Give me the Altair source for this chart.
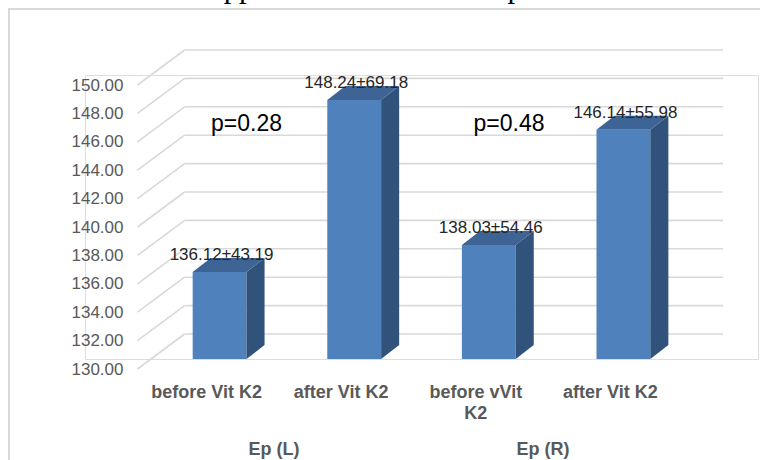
import altair as alt
import pandas as pd

# ---- values -------------------------------------------------------------
categories = ["before Vit K2", "after Vit K2", "before vVit\nK2", "after Vit K2"]
groups = ["Ep (L)", "Ep (R)"]
means = [136.12, 148.24, 138.03, 146.14]
sds = [43.19, 69.18, 54.46, 55.98]
p_values = ["p=0.28", "p=0.48"]
ticks = [130, 132, 134, 136, 138, 140, 142, 144, 146, 148, 150]
title_text = "Effect of Vit K2 supplementation on the Ep"

# ---- geometry of the pseudo-3D look ------------------------------------
PAD_L, PAD_T = 85, 75
W, H = 673, 284
HALF = 0.2        # half bar width, in category units
DX = 0.134        # bar depth, x units
DY = 0.986        # bar depth, value units

FRONT = "#4F81BD"
SIDE = "#30527B"
TOP = "#3D6495"
GRID = "#D9D9D9"
LABEL = "#595959"

xs = alt.Scale(domain=[-1, 4], nice=False, zero=False, clamp=False)
ys = alt.Scale(domain=[130, 150], nice=False, zero=False, clamp=False)
yaxis = alt.Axis(
    values=ticks, format=".2f", title=None, domain=False, ticks=False, grid=False,
    labelPadding=0, offset=PAD_L - 123, labelOffset=10, labelFont="Liberation Sans",
    labelFontSize=17, labelColor=LABEL,
)

bars = pd.DataFrame({
    "i": list(range(len(means))),
    "cat": categories,
    "mean": means,
    "label": [f"{m:.2f}\u00b1{s:.2f}" for m, s in zip(means, sds)],
})
bars["x0"] = bars["i"] - HALF
bars["x1"] = bars["i"] + HALF
bars["base"] = 130

side_rows, top_rows = [], []
for i, m in zip(bars["i"], bars["mean"]):
    side_rows += [
        {"bar": i, "x": i + HALF, "top": m, "bot": 130},
        {"bar": i, "x": i + HALF + DX, "top": m + DY, "bot": 130 + DY},
    ]
    top_rows += [
        {"bar": i, "y": m, "xl": i - HALF, "xr": i + HALF},
        {"bar": i, "y": m + DY, "xl": i - HALF + DX, "xr": i + HALF + DX},
    ]
side = pd.DataFrame(side_rows)
topf = pd.DataFrame(top_rows)
grid = pd.DataFrame({"tick": ticks})
grp = pd.DataFrame({"g": groups, "gx": [0.5, 2.5]})

# frame around the chart
frame = alt.Chart(pd.DataFrame({"a": [0]})).mark_rect(
    fill=None, stroke=GRID, strokeWidth=2
).encode(
    x=alt.value(9 - PAD_L), x2=alt.value(W + 200),
    y=alt.value(9 - PAD_T), y2=alt.value(H + 200),
)

# heading, mostly above the visible page
title = alt.Chart(pd.DataFrame({"t": [title_text]})).mark_text(
    font="Liberation Serif", fontSize=30.5, align="left", baseline="alphabetic",
    color="black",
).encode(x=alt.value(-7 - PAD_L), y=alt.value(-3.5 - PAD_T), text="t:N")

back_grid = alt.Chart(grid).mark_rule(color=GRID, strokeWidth=1.6, yOffset=-25).encode(
    x=alt.datum(-0.26, scale=xs, axis=None),
    x2=alt.datum(3.74),
    y=alt.Y("tick:Q", scale=ys, axis=yaxis),
)
floor_grid = alt.Chart(grid).mark_rule(
    color=GRID, strokeWidth=1.6, yOffset=10, y2Offset=-25
).encode(
    x=alt.datum(-0.61, scale=xs, axis=None),
    x2=alt.datum(-0.26),
    y=alt.Y("tick:Q", scale=ys, axis=yaxis),
    y2="tick:Q",
)

front = alt.Chart(bars).mark_bar(color=FRONT).encode(
    x=alt.X("x0:Q", scale=xs, axis=None),
    x2="x1:Q",
    y=alt.Y("mean:Q", scale=ys, axis=yaxis),
    y2="base:Q",
)
side_face = alt.Chart(side).mark_area(color=SIDE, orient="vertical").encode(
    x=alt.X("x:Q", scale=xs, axis=None),
    y=alt.Y("top:Q", scale=ys, axis=yaxis, stack=None),
    y2="bot:Q",
    detail="bar:N",
)
top_face = alt.Chart(topf).mark_area(color=TOP, orient="horizontal").encode(
    y=alt.Y("y:Q", scale=ys, axis=yaxis),
    x=alt.X("xl:Q", scale=xs, axis=None, stack=None),
    x2="xr:Q",
    detail="bar:N",
)

value_labels = alt.Chart(bars).mark_text(
    font="Liberation Sans", fontSize=17, color="#262626", dy=-17, dx=2, baseline="middle"
).encode(
    x=alt.X("i:Q", scale=xs, axis=None),
    y=alt.Y("mean:Q", scale=ys, axis=yaxis),
    text="label:N",
)

cat_labels = alt.Chart(bars).mark_text(
    font="Liberation Sans", fontSize=18, fontWeight="bold", color=LABEL,
    lineBreak="\n", baseline="top", lineHeight=21, xOffset=-13,
).encode(
    x=alt.X("i:Q", scale=xs, axis=None),
    y=alt.value(384 - PAD_T),
    text="cat:N",
)

group_labels = alt.Chart(grp).mark_text(
    font="Liberation Sans", fontSize=18, fontWeight="bold", color=LABEL,
    baseline="alphabetic", xOffset=-13,
).encode(
    x=alt.X("gx:Q", scale=xs, axis=None),
    y=alt.value(455 - PAD_T),
    text="g:N",
)

p_left = alt.Chart(pd.DataFrame({"p": [p_values[0]]})).mark_text(
    font="Liberation Sans", fontSize=23, color="black", baseline="alphabetic"
).encode(x=alt.datum(0.2, scale=xs, axis=None), y=alt.datum(146.06, scale=ys, axis=yaxis), text="p:N")
p_right = alt.Chart(pd.DataFrame({"p": [p_values[1]]})).mark_text(
    font="Liberation Sans", fontSize=23, color="black", baseline="alphabetic"
).encode(x=alt.datum(2.15, scale=xs, axis=None), y=alt.datum(146.06, scale=ys, axis=yaxis), text="p:N")

chart = alt.layer(
    frame, title, back_grid, floor_grid, front, side_face, top_face,
    value_labels, cat_labels, group_labels, p_left, p_right,
).properties(
    width=W, height=H,
    autosize=alt.AutoSizeParams(type="none"),
    padding={"left": PAD_L, "top": PAD_T, "right": 760 - PAD_L - W, "bottom": 460 - PAD_T - H},
).configure_view(stroke=None).configure(background="white")

chart.save("out.html", embed_options={"renderer": "svg", "actions": False})
